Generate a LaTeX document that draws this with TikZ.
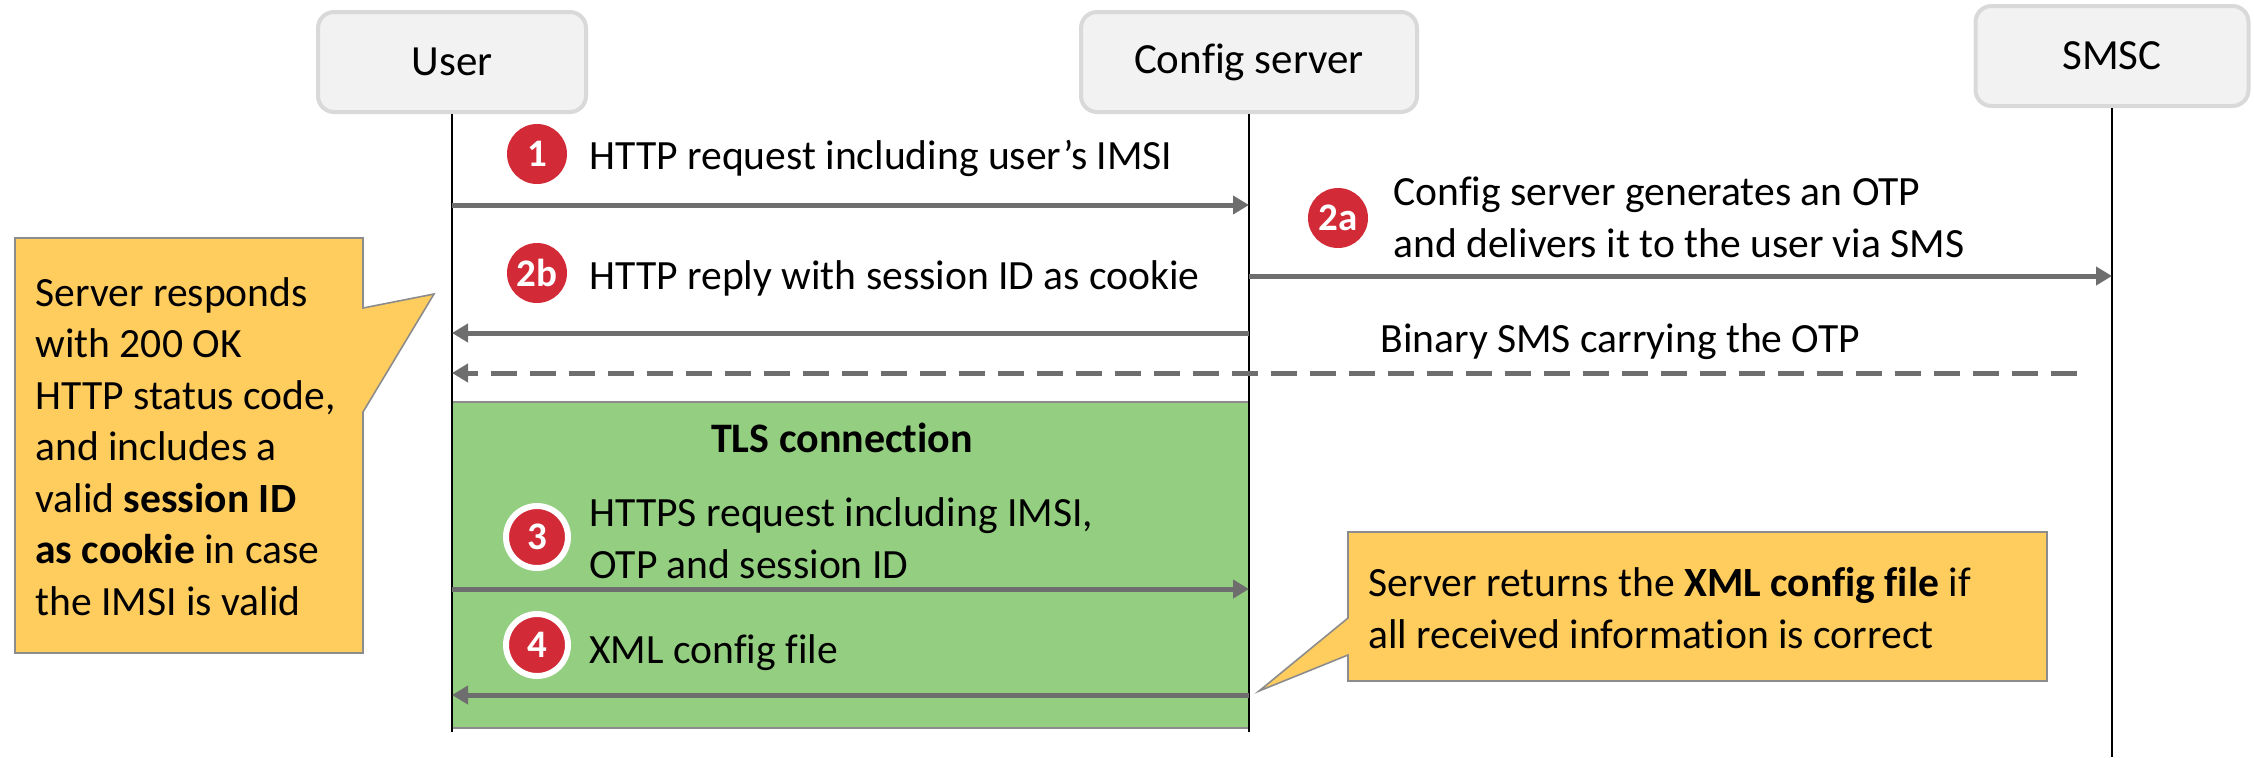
\documentclass[tikz,border=0pt]{standalone}
\usepackage{fontspec}
\setmainfont{Carlito}[Ligatures=NoCommon]
\usetikzlibrary{arrows.meta}

\definecolor{boxfill}{HTML}{F2F2F2}
\definecolor{boxline}{HTML}{D9D9D9}
\definecolor{msggray}{HTML}{6E6E6E}
\definecolor{badgered}{HTML}{D22A36}
\definecolor{tlsgreen}{HTML}{94CE80}
\definecolor{notegold}{HTML}{FFCC5E}
\definecolor{noteline}{HTML}{8C8C8C}

\tikzset{
  actor/.style={draw=boxline, fill=boxfill, line width=2pt, rounded corners=8pt,
    minimum height=50pt, font=\fontsize{21.5}{24}\selectfont},
  lifeline/.style={draw=black, line width=1pt},
  msg/.style={draw=msggray, line width=2.5pt, -{Triangle[length=8pt,width=9pt]}},
  msgdashed/.style={msg, dash pattern=on 13pt off 6.5pt},
  badge/.style={circle, fill=badgered, text=white, inner sep=0pt, minimum size=30pt,
    font=\fontsize{19.5}{20}\selectfont\bfseries},
  ringbadge/.style={badge, draw=white, line width=3pt, minimum size=31pt},
  label/.style={anchor=west, inner sep=0pt, align=left, font=\fontsize{20.8}{25.75}\selectfont},
  note/.style={fill=notegold, draw=noteline, line width=0.8pt, line join=miter},
}

\begin{document}
\begin{tikzpicture}[x=0.5pt, y=-0.5pt]
\useasboundingbox (0,0) rectangle (2254,757);

% TLS phase background
\node (tls) [draw=noteline, line width=0.8pt, fill=tlsgreen, minimum width=398.5pt,
  minimum height=163pt, inner sep=0pt] at (850.5,565) {};
\node (tlslabel) [font=\fontsize{21}{22}\selectfont\bfseries] at (842,438) {TLS connection};

% participants
\node (user) [actor, minimum width=134pt] at (452,62) {User};
\node (cfg)  [actor, minimum width=168pt] at (1249,62) {Config server};
\node (smsc) [actor, minimum width=136.5pt] at (2112,56) {SMSC};

% lifelines
\coordinate (uend) at (452,732);
\coordinate (cend) at (1249,732);
\coordinate (send) at (2112,757);
\draw[lifeline] (user.south) -- (uend);
\draw[lifeline] (cfg.south) -- (cend);
\draw[lifeline] (smsc.south) -- (send);

% message anchor points on the lifelines
\coordinate (u1) at (452,205);  \coordinate (c1) at (1249,205);
\coordinate (c2a) at (1249,276); \coordinate (s2a) at (2112,276);
\coordinate (c2b) at (1249,333); \coordinate (u2b) at (452,333);
\coordinate (ssms) at (2077,373); \coordinate (usms) at (452,373);
\coordinate (u3) at (452,589);  \coordinate (c3) at (1249,589);
\coordinate (c4) at (1249,695); \coordinate (u4) at (452,695);

% messages
\draw[msg] (u1) -- (c1);
\draw[msg] (c2a) -- (s2a);
\draw[msg] (c2b) -- (u2b);
\draw[msgdashed] (ssms) -- (usms);
\draw[msg] (u3) -- (c3);
\draw[msg] (c4) -- (u4);

% step badges
\node (b1)  [badge] at (537,154) {1};
\node (b2a) [badge] at (1338,218) {2a};
\node (b2b) [badge] at (537,273) {2b};
\node (b3)  [ringbadge] at (537,537) {3};
\node (b4)  [ringbadge] at (537,645) {4};

% message labels
\node (t1)  [label] at (589,158) {HTTP request including user’s IMSI};
\node (t2a) [label] at (1393,217.5) {Config server generates an OTP\\and delivers it to the user via SMS};
\node (t2b) [label] at (589,278) {HTTP reply with session ID as cookie};
\node (tsms) [label] at (1380,342) {Binary SMS carrying the OTP};
\node (t3)  [label] at (589,538) {HTTPS request including IMSI,\\OTP and session ID};
\node (t4)  [label] at (589,653) {XML config file};

% callout on the left
\draw[note] (15,238) -- (363,238) -- (363,308) -- (434,294) -- (363,412)
  -- (363,653) -- (15,653) -- cycle;
\node (n1) [label] at (35,446.5) {Server responds\\with 200 OK\\HTTP status code,\\and includes a\\valid \textbf{session ID}\\\textbf{as cookie} in case\\the IMSI is valid};

% callout on the right
\draw[note] (1348,532) -- (2047,532) -- (2047,681) -- (1348,681) -- (1348,655)
  -- (1259,691) -- (1348,618) -- cycle;
\node (n2) [label] at (1368,608) {Server returns the \textbf{XML config file} if\\all received information is correct};
\end{tikzpicture}
\end{document}
